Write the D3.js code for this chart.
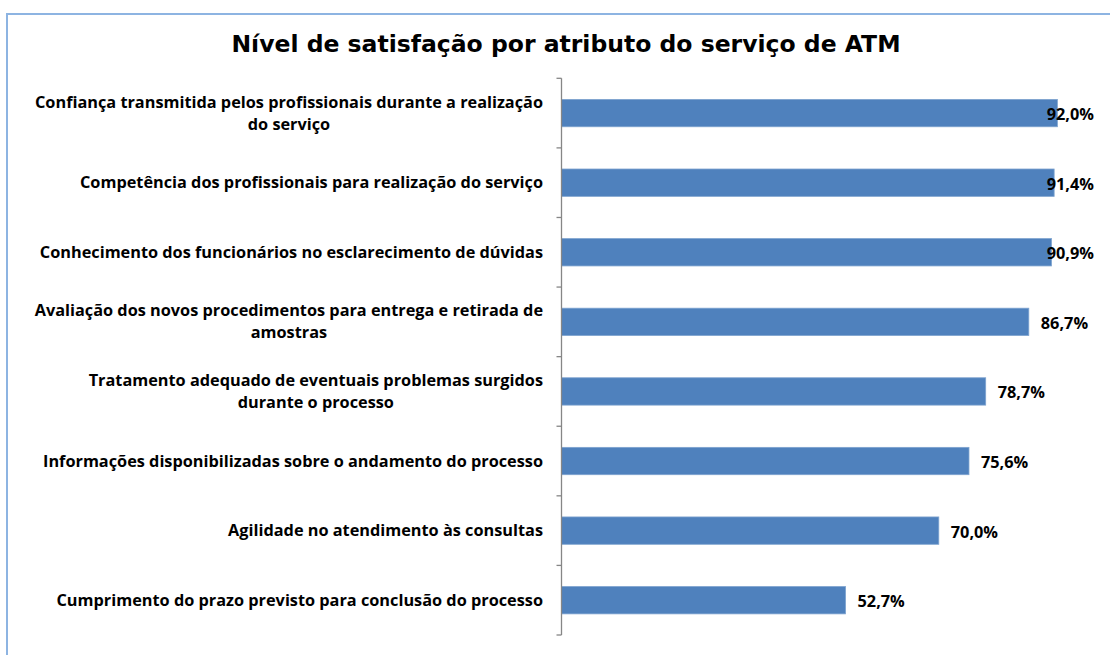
<!DOCTYPE html>
<html>
<head>
<meta charset="utf-8">
<script src="https://cdn.jsdelivr.net/npm/d3@7"></script>
<style>
  html, body { margin: 0; padding: 0; background: #fff; }
  svg { display: block; }
</style>
</head>
<body>
<svg id="chart" width="1110" height="655"></svg>
<script>
const title = "Nível de satisfação por atributo do serviço de ATM";
const categories = [
  ["Confiança transmitida pelos profissionais durante a realização", "do serviço"],
  ["Competência dos profissionais para realização do serviço"],
  ["Conhecimento dos funcionários no esclarecimento de dúvidas"],
  ["Avaliação dos novos procedimentos para entrega e retirada de", "amostras"],
  ["Tratamento adequado de eventuais problemas surgidos", "durante o processo"],
  ["Informações disponibilizadas sobre o andamento do processo"],
  ["Agilidade no atendimento às consultas"],
  ["Cumprimento do prazo previsto para conclusão do processo"]
];
const values = [92.0, 91.4, 90.9, 86.7, 78.7, 75.6, 70.0, 52.7];
const valueLabels = ["92,0%", "91,4%", "90,9%", "86,7%", "78,7%", "75,6%", "70,0%", "52,7%"];

const svg = d3.select("#chart");
const W = 1110, H = 655;

// chart border
svg.append("rect")
  .attr("x", 7).attr("y", 14)
  .attr("width", W + 10).attr("height", H + 10)
  .attr("fill", "#fff")
  .attr("stroke", "#8DB4E2")
  .attr("stroke-width", 2);

const labelFont = "'Open Sans', 'Noto Sans', sans-serif";

svg.append("text")
  .attr("x", 566).attr("y", 52)
  .attr("text-anchor", "middle")
  .style("font-family", "'DejaVu Sans', Verdana, sans-serif")
  .style("font-weight", "bold")
  .style("font-size", "23.5px")
  .attr("fill", "#000")
  .text(title);

const keys = d3.range(categories.length);
const y = d3.scaleBand().domain(keys).range([78.3, 635]).padding(0);
const x = d3.scaleLinear().domain([0, 100]).range([561.5, 1100.5]);

// bars
const barH = y.bandwidth() * 0.393;
svg.append("g").selectAll("rect")
  .data(keys)
  .join("rect")
  .attr("x", x(0))
  .attr("y", d => y(d) + (y.bandwidth() - barH) / 2)
  .attr("width", d => x(values[d]) - x(0))
  .attr("height", barH)
  .attr("fill", "#4F81BD")
  .attr("stroke", "#7EA3CF")
  .attr("stroke-width", 0.8);

// axis line and ticks at band boundaries
const axisG = svg.append("g");
axisG.append("line")
  .attr("x1", x(0)).attr("x2", x(0))
  .attr("y1", y.range()[0]).attr("y2", y.range()[1])
  .attr("stroke", "#868686").attr("stroke-width", 1.3);
const tickPos = keys.map(k => y(k)).concat([y.range()[1]]);
axisG.selectAll("line.tick")
  .data(tickPos)
  .join("line")
  .attr("class", "tick")
  .attr("x1", x(0) - 5).attr("x2", x(0))
  .attr("y1", d => d).attr("y2", d => d)
  .attr("stroke", "#868686").attr("stroke-width", 1.3);

// category labels: block right aligned, lines centered
const rightEdge = 543;
const lineH = 22;
const fontSize = 16.3;
const catG = svg.append("g");
keys.forEach(k => {
  const lines = categories[k];
  const t = catG.append("text")
    .style("font-family", labelFont)
    .style("font-weight", "bold")
    .style("font-size", fontSize + "px")
    .attr("fill", "#000")
    .attr("text-anchor", "middle");
  const cy = y(k) + y.bandwidth() / 2;
  const n = lines.length;
  const spans = lines.map((ln, i) => t.append("tspan")
    .attr("y", cy + (i - (n - 1) / 2) * lineH + 5.5)
    .text(ln));
  const maxW = d3.max(spans, s => s.node().getComputedTextLength());
  spans.forEach(s => s.attr("x", rightEdge - maxW / 2));
});

// value labels
const maxRight = 1094;
svg.append("g").selectAll("text")
  .data(keys)
  .join("text")
  .style("font-family", labelFont)
  .style("font-weight", "bold")
  .style("font-size", fontSize + "px")
  .attr("fill", "#000")
  .attr("y", d => y(d) + y.bandwidth() / 2 + 7)
  .text(d => valueLabels[d])
  .attr("x", function(d) {
    const w = this.getComputedTextLength();
    return Math.min(x(values[d]) + 12, maxRight - w);
  });
</script>
</body>
</html>
